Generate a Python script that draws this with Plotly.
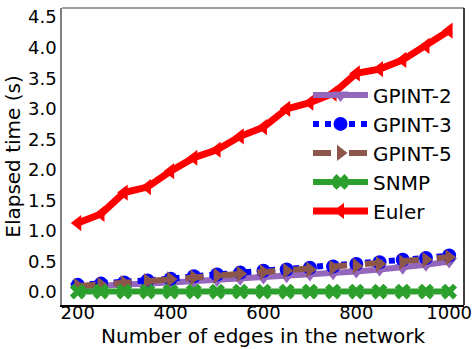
import plotly.graph_objects as go

edges = [200, 250, 300, 350, 400, 450, 500, 550, 600, 650, 700, 750, 800, 850, 900, 950, 1000]
gpint2 = [0.09, 0.10, 0.12, 0.14, 0.16, 0.18, 0.20, 0.22, 0.24, 0.26, 0.29, 0.31, 0.34, 0.37, 0.40, 0.45, 0.50]
gpint3 = [0.12, 0.14, 0.16, 0.19, 0.22, 0.26, 0.29, 0.32, 0.35, 0.37, 0.40, 0.42, 0.46, 0.49, 0.53, 0.56, 0.60]
gpint5 = [0.10, 0.12, 0.15, 0.18, 0.21, 0.24, 0.27, 0.30, 0.33, 0.35, 0.37, 0.40, 0.43, 0.46, 0.49, 0.53, 0.57]
snmp = [0.01, 0.01, 0.01, 0.01, 0.01, 0.01, 0.01, 0.01, 0.01, 0.01, 0.01, 0.01, 0.01, 0.01, 0.01, 0.01, 0.01]
euler = [1.13, 1.28, 1.63, 1.72, 1.98, 2.20, 2.33, 2.55, 2.70, 3.00, 3.10, 3.25, 3.58, 3.65, 3.80, 4.03, 4.28]

series = [
    ("GPINT-2", gpint2, "#9467bd", "solid", "triangle-down", 6),
    ("GPINT-3", gpint3, "#0000ff", "dot", "circle", 6),
    ("GPINT-5", gpint5, "#8c564b", "dash", "triangle-right", 6),
    ("SNMP", snmp, "#2ca02c", "solid", "x", 6),
    ("Euler", euler, "#ff0000", "solid", "triangle-left", 7),
]

fig = go.Figure()
for name, ys, color, dash, sym, lw in series:
    fig.add_trace(go.Scatter(
        x=edges, y=ys, name=name, mode="lines+markers",
        line=dict(color=color, width=lw, dash=dash),
        marker=dict(symbol=sym, size=14, color=color),
    ))

font = "DejaVu Sans"
fig.update_layout(
    width=475, height=349,
    margin=dict(l=62, r=3, t=8, b=44),
    plot_bgcolor="white", paper_bgcolor="white",
    font=dict(family=font, size=18, color="black"),
    showlegend=True,
    legend=dict(x=0.612, y=0.773, xanchor="left", yanchor="top",
                bgcolor="rgba(0,0,0,0)", font=dict(size=20),
                tracegroupgap=0, itemwidth=55),
    xaxis=dict(range=[166, 1032], tickvals=[200, 400, 600, 800, 1000],
               showgrid=False, zeroline=False, showline=True, mirror=False,
               linecolor="black", linewidth=1.5, ticks="",
               ticklabeloverflow="allow", ticklabelstandoff=-9,
               tickfont=dict(size=18)),
    yaxis=dict(range=[-0.21, 4.65], tickvals=[0, 0.5, 1, 1.5, 2, 2.5, 3, 3.5, 4, 4.5],
               ticktext=["0.0", "0.5", "1.0", "1.5", "2.0", "2.5", "3.0", "3.5", "4.0", "4.5"],
               showgrid=False, zeroline=False, showline=True, mirror=False,
               linecolor="#808080", linewidth=1.5, ticks="",
               ticklabeloverflow="allow",
               title=dict(text="Elapsed time (s)", font=dict(size=20), standoff=2),
               tickfont=dict(size=18)),
    shapes=[
        dict(type="line", xref="paper", yref="paper", x0=0, x1=1, y0=1, y1=1,
             line=dict(color="#808080", width=1.5)),
        dict(type="line", xref="paper", yref="paper", x0=1, x1=1, y0=0, y1=1,
             line=dict(color="black", width=1.5)),
    ],
    annotations=[
        dict(text="Number of edges in the network", xref="paper", yref="paper",
             x=0.5, y=-0.0, yshift=-31, xanchor="center", yanchor="middle",
             showarrow=False, font=dict(size=20)),
    ],
)
fig.write_html("out.html")
